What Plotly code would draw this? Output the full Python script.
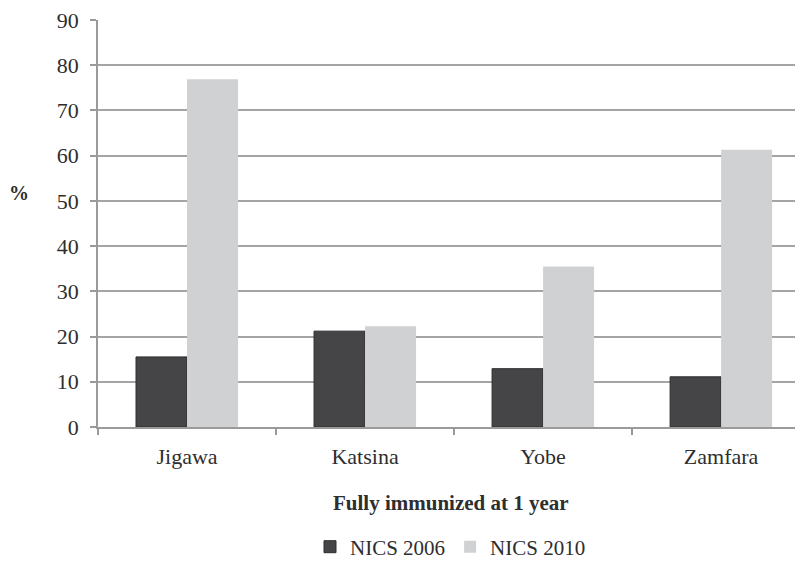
import plotly.graph_objects as go

categories = ["Jigawa", "Katsina", "Yobe", "Zamfara"]
nics_2006 = [15.5, 21.2, 12.9, 11.1]
nics_2010 = [76.9, 22.3, 35.5, 61.3]
y_ticks = [0, 10, 20, 30, 40, 50, 60, 70, 80, 90]

FONT = "Liberation Serif"
TXT = "#2e2e2e"
fig = go.Figure()
fig.add_trace(go.Bar(name="NICS 2006", x=categories, y=nics_2006,
                     marker=dict(color="#454547", line=dict(color="#2e2e30", width=1))))
fig.add_trace(go.Bar(name="NICS 2010", x=categories, y=nics_2010,
                     marker=dict(color="#d0d1d3", line=dict(color="#d0d1d3", width=0))))

fig.update_layout(
    width=795, height=554,
    margin=dict(l=90, r=0, t=12, b=135),
    paper_bgcolor="white", plot_bgcolor="white",
    barmode="group", bargap=0.427, bargroupgap=0,
    font=dict(family=FONT, size=21, color=TXT),
    showlegend=True,
    legend=dict(orientation="h", x=0.5, xanchor="center", xref="paper",
                y=0.027, yanchor="middle", yref="container",
                font=dict(family=FONT, size=21, color=TXT), borderwidth=0,
                tracegroupgap=0, itemwidth=30, traceorder="normal"),
    xaxis=dict(range=[-0.5, 3.46], showgrid=False, showline=True, linecolor="#9a9a9a",
               linewidth=1.5, ticks="outside", tickson="boundaries", ticklen=6,
               tickcolor="#9a9a9a", tickwidth=1.5, ticklabelstandoff=9,
               tickfont=dict(family=FONT, size=22, color=TXT), automargin=False),
    yaxis=dict(range=[0, 90], tickvals=y_ticks, showgrid=True, gridcolor="#a4a4a4",
               gridwidth=1.5, showline=True, linecolor="#9a9a9a", linewidth=1.5,
               ticks="outside", ticklen=6, tickcolor="#9a9a9a", tickwidth=1.5,
               ticklabelstandoff=7, zeroline=False, automargin=False,
               ticklabeloverflow="allow",
               tickfont=dict(family=FONT, size=22, color=TXT)),
    annotations=[
        dict(text="<b>%</b>", xref="paper", yref="paper", x=-0.112, y=0.575,
             showarrow=False, xanchor="center", yanchor="middle",
             font=dict(family=FONT, size=20, color=TXT)),
        dict(text="<b>Fully immunized at 1 year</b>", xref="paper", yref="paper",
             x=0.5, y=-0.187, showarrow=False, xanchor="center", yanchor="middle",
             font=dict(family=FONT, size=21, color=TXT)),
    ],
)

fig.write_html("out.html")
